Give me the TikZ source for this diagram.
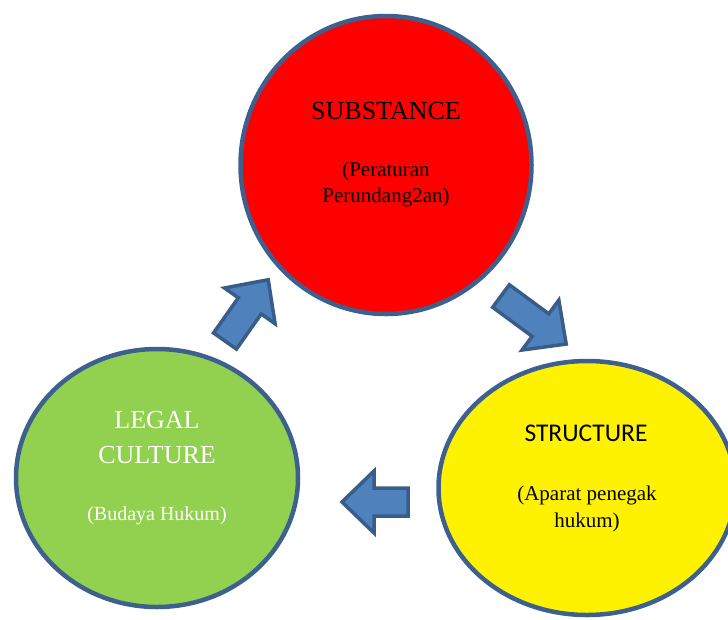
\documentclass[tikz,border=0pt]{standalone}
\usepackage{fontspec}
\setmainfont{Liberation Serif}
\newfontfamily\calibrifont{Carlito}
\usetikzlibrary{shapes.geometric}

\definecolor{ringblue}{RGB}{61,96,143}
\definecolor{arrowfill}{RGB}{79,129,189}
\definecolor{arrowline}{RGB}{56,93,138}
\definecolor{legalgreen}{RGB}{146,208,80}

\tikzset{
  circlebox/.style={ellipse, draw=ringblue, line width=4.5pt, inner sep=0pt},
  arrowbox/.style={draw=arrowline, fill=arrowfill, line width=3.5pt, line join=miter},
  bigtext/.style={anchor=base, inner sep=0pt, font=\fontsize{26}{30}\selectfont},
  smalltext/.style={anchor=base, inner sep=0pt, font=\fontsize{21}{26}\selectfont},
  blockarrow/.pic={
    \draw[arrowbox] (0,-14) -- ({#1-32},-14) -- ({#1-32},-31) -- (#1,0)
      -- ({#1-32},31) -- ({#1-32},14) -- (0,14) -- cycle;
  }
}

\begin{document}
\begin{tikzpicture}[x=1pt,y=1pt,yscale=-1]
  \useasboundingbox (0,0) rectangle (728,619);

  %Circles
  \node[circlebox, fill=red, minimum width=291pt, minimum height=298pt] (subst) at (386,165) {};
  \node[circlebox, fill=yellow, minimum width=297pt, minimum height=254pt] (struct) at (587,488) {};
  \node[circlebox, fill=legalgreen, minimum width=282pt, minimum height=258pt] (legal) at (157,478) {};

  %Texts: substance
  \node[bigtext] (substtitle) at (386,119) {SUBSTANCE};
  \node[smalltext] (substsubA) at (386,176) {(Peraturan};
  \node[smalltext] (substsubB) at (386,202) {Perundang2an)};

  %Texts: structure
  \node[bigtext, font=\calibrifont\fontsize{25.5}{30}\selectfont] (structtitle) at (586,441) {STRUCTURE};
  \node[smalltext] (structsubA) at (587,500) {(Aparat penegak};
  \node[smalltext] (structsubB) at (587,527) {hukum)};

  %Texts: legal culture
  \node[bigtext, text=white] (legaltitleA) at (157,428) {LEGAL};
  \node[bigtext, text=white] (legaltitleB) at (157,463) {CULTURE};
  \node[smalltext, text=white, font=\fontsize{20}{24}\selectfont] (legalsub) at (157,520) {(Budaya Hukum)};

  %Block arrows
  \pic[rotate=54.8] at (225,341) {blockarrow=75};
  \pic[rotate=-36.4] at (501,296) {blockarrow=81};
  \pic[rotate=180] at (408,502) {blockarrow=66};
\end{tikzpicture}
\end{document}
